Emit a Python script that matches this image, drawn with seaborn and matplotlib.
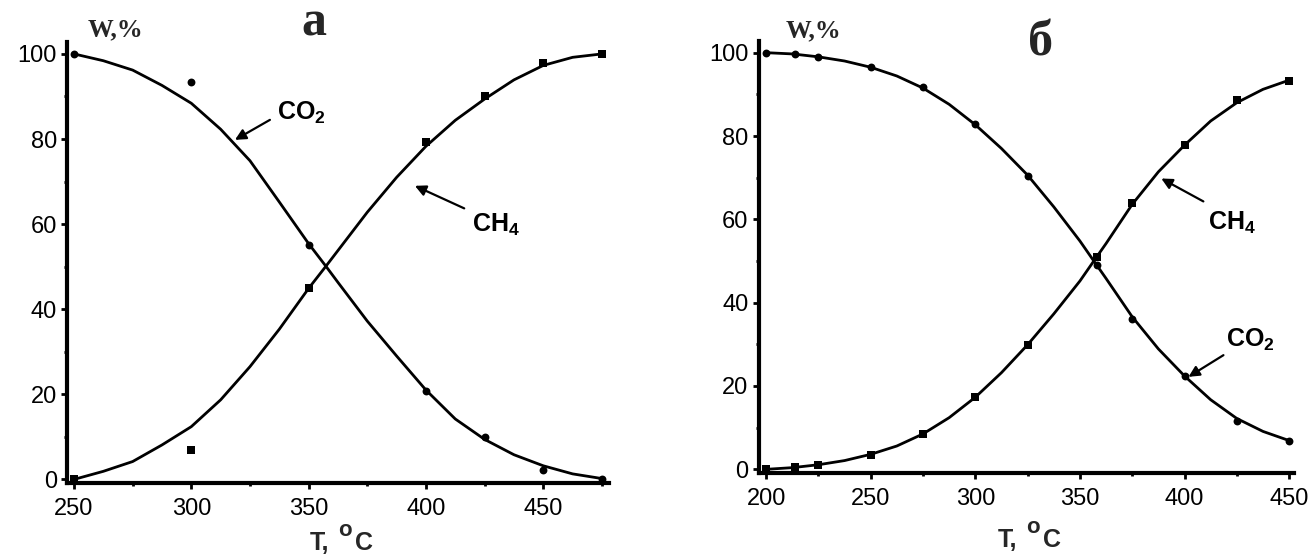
import numpy as np
import pandas as pd
import matplotlib
matplotlib.use("Agg")
import matplotlib.pyplot as plt
import seaborn as sns
from matplotlib.ticker import MultipleLocator

# ---------------- data ----------------
# panel "а"
a_T_pts = [250, 300, 350, 400, 425, 450, 475]
a_co2_pts = [100, 93.3, 55.1, 20.8, 10.0, 2.3, 0.1]
a_ch4_pts = [0, 6.9, 44.9, 79.4, 90.0, 97.9, 100]
a_curve_T = [250, 262.5, 275, 287.5, 300, 312.5, 325, 337.5, 350, 357.5,
             362.5, 375, 387.5, 400, 412.5, 425, 437.5, 450, 462.5, 475]
a_curve_co2 = [100, 98.4, 96.2, 92.6, 88.4, 82.3, 74.9, 65.2, 55.4, 50.0,
               46.3, 37.2, 29.0, 21.0, 14.2, 9.4, 5.8, 3.2, 1.3, 0.2]
a_curve_ch4 = [0, 1.9, 4.2, 8.1, 12.4, 18.7, 26.5, 35.3, 44.9, 50.2,
               53.8, 62.8, 71.0, 78.3, 84.4, 89.4, 93.9, 97.3, 99.2, 100]

# panel "б"
b_T_pts = [200, 214, 225, 250, 275, 300, 325, 358, 375, 400, 425, 450]
b_co2_pts = [100, 99.6, 99.0, 96.6, 91.8, 82.8, 70.4, 49.0, 36.0, 22.3, 11.5, 6.9]
b_ch4_pts = [0, 0.5, 1.0, 3.4, 8.4, 17.4, 29.8, 51.0, 64.0, 77.9, 88.7, 93.3]
b_curve_T = [200, 212.5, 225, 237.5, 250, 262.5, 275, 287.5, 300, 312.5, 325,
             337.5, 350, 356.5, 362.5, 375, 387.5, 400, 412.5, 425, 437.5, 450]
b_curve_co2 = [100, 99.7, 99.0, 98.0, 96.5, 94.4, 91.5, 87.6, 82.7, 77.0, 70.6,
               63.0, 54.8, 50.1, 45.8, 36.6, 28.9, 22.4, 16.7, 12.2, 9.1, 6.9]
b_curve_ch4 = [0, 0.4, 1.1, 2.1, 3.6, 5.6, 8.5, 12.4, 17.3, 23.2, 29.9,
               37.3, 45.2, 49.9, 54.2, 63.6, 71.4, 77.8, 83.6, 88.0, 91.2, 93.4]

panel_titles = ["а", "б"]
y_label = "W,%"
x_label_parts = ["T,", "o", "C"]
co2_label = r"CO$_\mathbf{2}$"
ch4_label = r"CH$_\mathbf{4}$"

# ---------------- style ----------------
sns.set_style("ticks")
plt.rcParams["font.family"] = ["Liberation Sans", "DejaVu Sans"]
plt.rcParams["mathtext.fontset"] = "custom"
plt.rcParams["mathtext.rm"] = "Liberation Sans"
plt.rcParams["mathtext.bf"] = "Liberation Sans:bold"
plt.rcParams["mathtext.it"] = "Liberation Sans:italic"

W, H = 1312, 556
fig = plt.figure(figsize=(13.12, 5.56), dpi=100)
axa = fig.add_axes([0.0512, 0.1304, 0.4128, 0.7933])
axb = fig.add_axes([0.5785, 0.1487, 0.4079, 0.7783])


def style(ax, xlim, ylim):
    ax.set_xlim(*xlim)
    ax.set_ylim(*ylim)
    for s in ["top", "right"]:
        ax.spines[s].set_visible(False)
    for s in ["left", "bottom"]:
        ax.spines[s].set_linewidth(3)
        ax.spines[s].set_color("black")
    ax.xaxis.set_major_locator(MultipleLocator(50))
    ax.xaxis.set_minor_locator(MultipleLocator(25))
    ax.yaxis.set_major_locator(MultipleLocator(20))
    ax.yaxis.set_minor_locator(MultipleLocator(10))
    ax.tick_params(which="major", direction="out", length=4.5, width=2,
                   labelsize=17, color="black", labelcolor="black")
    ax.tick_params(which="minor", direction="out", length=2.5, width=2,
                   color="black")
    ax.tick_params(axis="x", which="major", pad=6)
    ax.tick_params(axis="y", which="major", pad=3)
    ax.set_xlabel("")
    ax.set_ylabel("")


def draw(ax, cT, cco2, cch4, pT, pco2, pch4):
    sns.lineplot(x=cT, y=cco2, ax=ax, color="black", lw=2, sort=False,
                 solid_joinstyle="round")
    sns.lineplot(x=cT, y=cch4, ax=ax, color="black", lw=2, sort=False,
                 solid_joinstyle="round")
    sns.scatterplot(x=pT, y=pco2, ax=ax, color="black", marker="o", s=32,
                    edgecolor="black", linewidth=0, zorder=3, clip_on=False)
    sns.scatterplot(x=pT, y=pch4, ax=ax, color="black", marker="s", s=28,
                    edgecolor="black", linewidth=0, zorder=3, clip_on=False)


draw(axa, a_curve_T, a_curve_co2, a_curve_ch4, a_T_pts, a_co2_pts, a_ch4_pts)
draw(axb, b_curve_T, b_curve_co2, b_curve_ch4, b_T_pts, b_co2_pts, b_ch4_pts)
style(axa, (247.1, 477.9), (-0.96, 102.7))
style(axb, (196.6, 452.4), (-0.96, 102.9))

arrow = dict(arrowstyle="-|>", color="black", lw=1.6, mutation_scale=16,
             shrinkA=0, shrinkB=0)
lab_kw = dict(fontsize=18, fontweight="bold", ha="left", va="baseline",
              color="black")

# panel a annotations
axa.annotate("", xy=(318.6, 79.8), xytext=(333.5, 84.5), arrowprops=arrow)
axa.text(336.4, 84.5, co2_label, **lab_kw)
axa.annotate("", xy=(395.3, 69.0), xytext=(416.3, 63.7), arrowprops=arrow)
axa.text(419.5, 58.3, ch4_label, **lab_kw)

# panel b annotations
axb.annotate("", xy=(388.9, 69.8), xytext=(409.0, 64.3), arrowprops=arrow)
axb.text(411.0, 57.5, ch4_label, **lab_kw)
axb.annotate("", xy=(401.9, 22.2), xytext=(418.6, 27.4), arrowprops=arrow)
axb.text(419.6, 29.4, co2_label, **lab_kw)

# y labels (W,%)
serif = ["Liberation Serif", "DejaVu Serif"]
fig.text(88 / W, 1 - 36 / H, y_label, family=serif, fontweight="bold",
         fontsize=18.5, ha="left", va="baseline")
fig.text(786 / W, 1 - 37 / H, y_label, family=serif, fontweight="bold",
         fontsize=18.5, ha="left", va="baseline")

# panel titles
fig.text(314 / W, 1 - 35 / H, panel_titles[0], family=serif,
         fontweight="bold", fontsize=36, ha="center", va="baseline")
fig.text(1040.6 / W, 1 - 55 / H, panel_titles[1], family=serif,
         fontweight="bold", fontsize=36, ha="center", va="baseline")


# x labels: "T," + raised "o" + "C"
def xlabel(x0, base):
    fig.text(x0 / W, 1 - base / H, x_label_parts[0], fontsize=18,
             fontweight="bold", ha="left", va="baseline")
    fig.text((x0 + 28) / W, 1 - (base - 14) / H, x_label_parts[1], fontsize=16,
             fontweight="bold", ha="left", va="baseline")
    fig.text((x0 + 45) / W, 1 - base / H, x_label_parts[2], fontsize=18,
             fontweight="bold", ha="left", va="baseline")


xlabel(310, 550)
xlabel(997.7, 547)

fig.savefig("out.png", dpi=100, facecolor="white")
